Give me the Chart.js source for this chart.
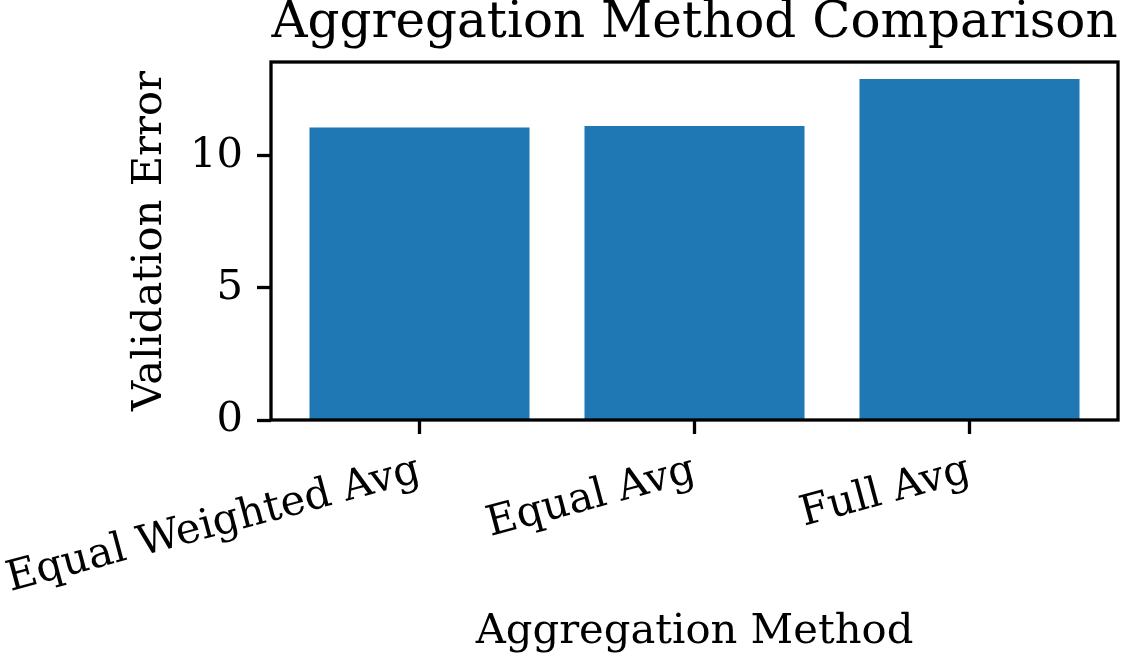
<!DOCTYPE html>
<html>
<head>
<meta charset="utf-8">
<script src="https://cdn.jsdelivr.net/npm/chart.js@4"></script>
<style>
  body { margin: 0; background: #fff; }
  canvas { display: block; }
</style>
</head>
<body>
<canvas id="aggChart" width="1122" height="657"></canvas>
<script>
// DATA
const methods = ['Equal Weighted Avg', 'Equal Avg', 'Full Avg'];
const validationError = [11.08, 11.13, 12.91];
const yTicks = [0, 5, 10];

const FONT = 'DejaVu Serif';
const BLACK = '#000000';
const LW = 3.3;

// top + right spines, drawn over the bars like matplotlib
const frame = {
    id: 'frame',
    afterDraw(chart) {
        const a = chart.chartArea;
        const ctx = chart.ctx;
        ctx.save();
        ctx.strokeStyle = BLACK;
        ctx.lineWidth = LW;
        ctx.lineJoin = 'miter';
        ctx.strokeRect(a.left, a.top, a.right - a.left, a.bottom - a.top);
        ctx.restore();
    }
};

const points = methods.map((m, i) => ({ x: i, y: validationError[i] }));
const yMax = Math.max(...validationError) * 1.05;

new Chart(document.getElementById('aggChart').getContext('2d'), {
    type: 'bar',
    data: {
        datasets: [{
            data: points,
            backgroundColor: '#1f77b4',
            borderWidth: 0,
            categoryPercentage: 1,
            barPercentage: 0.8
        }]
    },
    options: {
        responsive: false,
        animation: false,
        devicePixelRatio: 1,
        layout: { padding: { left: 0, right: 4, top: 0, bottom: 0 } },
        plugins: {
            legend: { display: false },
            tooltip: { enabled: false },
            title: {
                display: true,
                text: 'Aggregation Method Comparison',
                fullSize: false,
                color: BLACK,
                font: { family: FONT, size: 50, weight: 'normal', lineHeight: 0.96 },
                padding: { top: 0, bottom: 14 }
            }
        },
        scales: {
            x: {
                type: 'linear',
                offset: false,
                min: -0.54,
                max: 2.54,
                afterBuildTicks: s => { s.ticks = methods.map((m, i) => ({ value: i })); },
                afterFit: s => { s.height = 237; s.paddingLeft = 0; s.paddingRight = 0; },
                ticks: {
                    autoSkip: false,
                    minRotation: 15,
                    maxRotation: 15,
                    padding: 12,
                    color: BLACK,
                    font: { family: FONT, size: 41.7 },
                    callback: v => methods[v]
                },
                grid: { offset: false, drawOnChartArea: false, drawTicks: true, tickLength: 14, tickWidth: LW, tickColor: BLACK },
                border: { display: false },
                title: {
                    display: true,
                    text: 'Aggregation Method',
                    color: BLACK,
                    font: { family: FONT, size: 41.7, lineHeight: 1.2 },
                    padding: { top: 0, bottom: 0 }
                }
            },
            y: {
                min: 0,
                max: yMax,
                afterBuildTicks: s => { s.ticks = yTicks.map(v => ({ value: v })); },
                afterFit: s => { s.width = 271; s.paddingTop = 0; s.paddingBottom = 0; },
                ticks: {
                    padding: 14,
                    color: BLACK,
                    font: { family: FONT, size: 41.7 }
                },
                grid: { drawOnChartArea: false, drawTicks: true, tickLength: 14, tickWidth: LW, tickColor: BLACK },
                border: { display: false },
                title: {
                    display: true,
                    text: 'Validation Error',
                    color: BLACK,
                    font: { family: FONT, size: 41.7, lineHeight: 1.2 },
                    padding: { top: 125, bottom: 0 }
                }
            }
        }
    },
    plugins: [frame]
});
</script>
</body>
</html>
